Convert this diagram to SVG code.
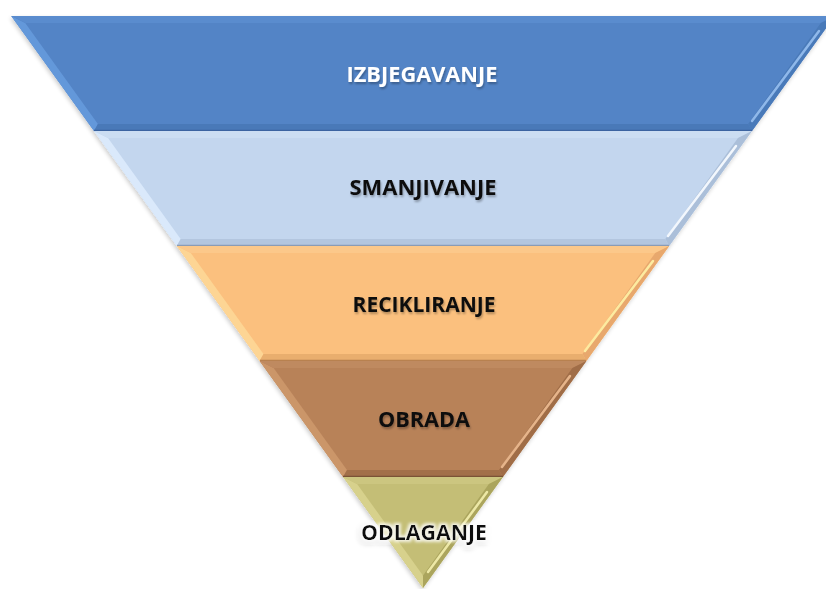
<svg xmlns="http://www.w3.org/2000/svg" width="826" height="589" viewBox="0 0 826 589">
<defs>
<filter id="sh" x="-10%" y="-30%" width="120%" height="160%">
<feGaussianBlur in="SourceAlpha" stdDeviation="1.2"/>
<feOffset dx="1" dy="1.5" result="b"/>
<feComponentTransfer><feFuncA type="linear" slope="0.3"/></feComponentTransfer>
<feMerge><feMergeNode/><feMergeNode in="SourceGraphic"/></feMerge>
</filter>
<filter id="glow" x="-20%" y="-40%" width="140%" height="180%">
<feMorphology in="SourceAlpha" operator="dilate" radius="1.5" result="d"/>
<feGaussianBlur in="d" stdDeviation="1.5" result="g"/>
<feFlood flood-color="#ffffff" flood-opacity="0.8"/>
<feComposite in2="g" operator="in" result="w"/>
<feMerge><feMergeNode in="w"/><feMergeNode in="SourceGraphic"/></feMerge>
</filter>
<filter id="ps" x="-5%" y="-5%" width="110%" height="110%">
<feGaussianBlur in="SourceAlpha" stdDeviation="2"/>
<feOffset dx="-1" dy="2" result="o"/>
<feComponentTransfer><feFuncA type="linear" slope="0.2"/></feComponentTransfer>
<feMerge><feMergeNode/><feMergeNode in="SourceGraphic"/></feMerge>
</filter>
</defs>
<style>
.lbl{font-family:"Open Sans","Liberation Sans",sans-serif;font-weight:700;font-size:21px;text-anchor:middle}
.dark{fill:#111111}
.hl{fill:none;stroke-width:2.5;stroke-linecap:round}
.edge{fill:none;stroke-width:1.5}
</style>
<rect width="826" height="589" fill="#ffffff"/>
<g filter="url(#ps)">
<g id="izbjegavanje">
<polygon points="11.2,16 834.8,16 752,131 94,131" fill="#5384C6"/>
<polygon points="11.2,16 25.2,23 97.9,124 94,131" fill="#6498DA"/>
<polygon points="11.2,16 834.8,16 820.8,23 25.2,23" fill="#5A8CCE"/>
<polygon points="834.8,16 752,131 748.1,124 820.8,23" fill="#4A7AB9"/>
<polygon points="94,131 752,131 748.1,124 97.9,124" fill="#4A79B8"/>
<line class="edge" x1="94" y1="130.5" x2="752" y2="130.5" stroke="#3A64A0"/>
<line class="hl" x1="819" y1="31" x2="752" y2="121" stroke="#8FB8EA"/>
<text class="lbl" x="422" y="82" fill="#ffffff" filter="url(#sh)" textLength="151" lengthAdjust="spacingAndGlyphs">IZBJEGAVANJE</text>
</g>
<g id="smanjivanje">
<polygon points="94,131 752,131 669.2,246 176.8,246" fill="#C3D6EE"/>
<polygon points="94,131 108,138 180.7,239 176.8,246" fill="#DAE9FB"/>
<polygon points="94,131 752,131 738,138 108,138" fill="#CBDDF2"/>
<polygon points="752,131 669.2,246 665.3,239 738,138" fill="#ABBFD9"/>
<polygon points="176.8,246 669.2,246 665.3,239 180.7,239" fill="#B3C6DF"/>
<line class="edge" x1="177" y1="245.5" x2="669" y2="245.5" stroke="#8A9CB6"/>
<line class="hl" x1="736" y1="146" x2="668" y2="236" stroke="#F2F7FD"/>
<text class="lbl dark" x="423" y="195" filter="url(#sh)" textLength="147" lengthAdjust="spacingAndGlyphs">SMANJIVANJE</text>
</g>
<g id="recikliranje">
<polygon points="176.8,246 669.2,246 586.4,361 259.6,361" fill="#FBC07E"/>
<polygon points="176.8,246 190.8,253 263.5,354 259.6,361" fill="#FDD594"/>
<polygon points="176.8,246 669.2,246 655.2,253 190.8,253" fill="#FCC88A"/>
<polygon points="669.2,246 586.4,361 582.5,354 655.2,253" fill="#E8A86D"/>
<polygon points="259.6,361 586.4,361 582.5,354 263.5,354" fill="#E9AE6E"/>
<line class="edge" x1="260" y1="360.5" x2="586" y2="360.5" stroke="#B88150"/>
<line class="hl" x1="653" y1="261" x2="585" y2="351" stroke="#FDEBA0"/>
<text class="lbl dark" x="424" y="312" filter="url(#sh)" textLength="143" lengthAdjust="spacingAndGlyphs">RECIKLIRANJE</text>
</g>
<g id="obrada">
<polygon points="259.6,361 586.4,361 502.9,477 343.1,477" fill="#B88259"/>
<polygon points="259.6,361 273.6,368 347,470 343.1,477" fill="#CB9669"/>
<polygon points="259.6,361 586.4,361 572.4,368 273.6,368" fill="#BF8A61"/>
<polygon points="586.4,361 502.9,477 499,470 572.4,368" fill="#A06D47"/>
<polygon points="343.1,477 502.9,477 499,470 347,470" fill="#A2704A"/>
<line class="edge" x1="343" y1="476.5" x2="503" y2="476.5" stroke="#7A5234"/>
<line class="hl" x1="570" y1="376" x2="502" y2="467" stroke="#E6B48A"/>
<text class="lbl dark" x="424" y="427" filter="url(#sh)" textLength="92" lengthAdjust="spacingAndGlyphs">OBRADA</text>
</g>
<g id="odlaganje">
<polygon points="343.1,477 502.9,477 423,588" fill="#C4BE76"/>
<polygon points="343.1,477 357.1,484 423,575.5 423,588" fill="#D7D18C"/>
<polygon points="343.1,477 502.9,477 488.9,484 357.1,484" fill="#CCC680"/>
<polygon points="502.9,477 423,588 423,575.5 488.9,484" fill="#ABA55D"/>
<line class="hl" x1="487" y1="492" x2="428" y2="572" stroke="#EDE8A6"/>
<text class="lbl dark" x="424" y="540" filter="url(#glow)" textLength="126" lengthAdjust="spacingAndGlyphs">ODLAGANJE</text>
</g>
</g>
</svg>
